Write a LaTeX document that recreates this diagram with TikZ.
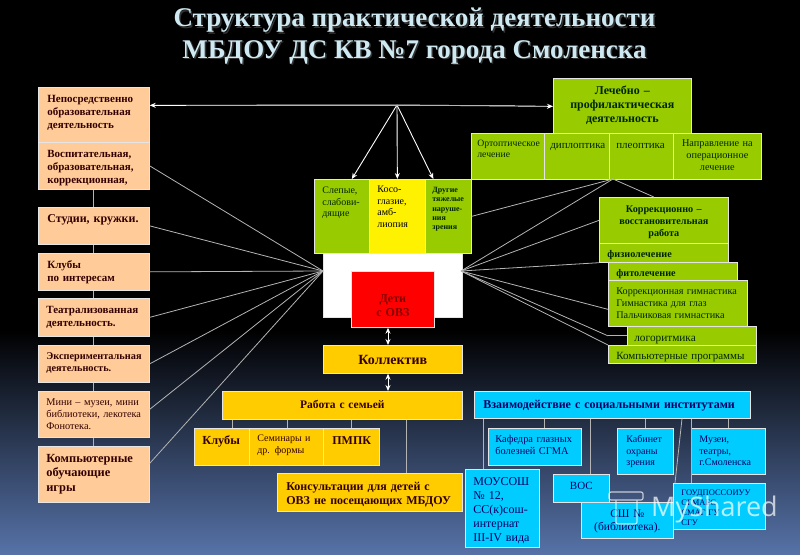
\documentclass[tikz,border=0pt]{standalone}
\usepackage{fontspec}
\setmainfont{Liberation Serif}
\newfontfamily\markfont{Open Sans}
\usetikzlibrary{arrows.meta}
\definecolor{peach}{HTML}{FFCC99}
\definecolor{leaf}{HTML}{99CC00}
\definecolor{gold}{HTML}{FFCC00}
\definecolor{sky}{HTML}{00CCFF}
\definecolor{wire}{HTML}{B4B4B4}
\definecolor{titleblue}{HTML}{CFE9F2}
\newcommand{\fs}[1]{\pgfmathsetmacro\fsb{#1*1.17}\fontsize{#1}{\fsb}\selectfont}
\tikzset{
  cell/.style n args={3}{draw=white!80!gray,line width=0.7pt,anchor=north west,inner ysep=0pt,inner xsep=6pt,align=left,
    minimum width=#1,text width=#1pt-12pt,text height=#3pt,text depth=#2pt-#3pt},
  pad/.style 2 args={inner xsep=#2pt,text width=#1pt-2*#2pt},
  peachcell/.style={fill=peach,text=black!80!red},
  leafcell/.style={fill=leaf,text=black!85!green},
  goldcell/.style={fill=gold,text=black!80!red},
  skycell/.style={fill=sky,text=blue!40!black},
  link/.style={wire,line width=0.8pt},
  tip/.style={line width=0.9pt,-{Stealth[length=6pt,width=5pt]},white},
  twotip/.style={line width=0.9pt,{Stealth[length=6pt,width=5pt]}-{Stealth[length=6pt,width=5pt]},white}
}
\begin{document}
\begin{tikzpicture}[x=1pt,y=-1pt]
\useasboundingbox (0,0) rectangle (800,554);
\fill[black] (0,0) rectangle (800,330);
\shade[top color=black,bottom color={rgb,255:red,86;green,114;blue,168}] (0,330) rectangle (800,554);
% title
\node[font=\bfseries\fs{27},text=black!60!gray,align=center] (titleshadow) at (416,37.5) {Структура практической деятельности\\[0pt]МБДОУ ДС КВ №7 города Смоленска};
\node[font=\bfseries\fs{27},text=titleblue,align=center] (title) at (414.5,36) {Структура практической деятельности\\[0pt]МБДОУ ДС КВ №7 города Смоленска};
% hubs
\coordinate (hubl) at (323,271);
\coordinate (hubr) at (461,271);
\coordinate (hubt) at (397,105);
\coordinate (hubp) at (613,179);
% left column
\node[cell={111}{55}{15},pad={111}{9},peachcell,font=\bfseries\fs{11}] (neposr) at (38,87) {Непосредственно\\образовательная\\деятельность};
\node[cell={111}{47}{15.5},pad={111}{9},peachcell,font=\bfseries\fs{11}] (vospit) at (38,142) {Воспитательная,\\образовательная,\\коррекционная,};
\node[cell={111}{37}{15},pad={111}{9},peachcell,font=\bfseries\fs{12}] (studii) at (38,207) {Студии, кружки.};
\node[cell={111}{37}{15},pad={111}{9},peachcell,font=\bfseries\fs{11}] (kluby) at (38,253) {Клубы\\по интересам};
\node[cell={111}{38}{15},pad={111}{8},peachcell,font=\bfseries\fs{11}] (teatr) at (38,298) {Театрализованная\\деятельность.};
\node[cell={111}{37}{14},pad={111}{8},peachcell,font=\bfseries\fs{10.3}] (eksper) at (38,345) {Экспериментальная\\деятельность.};
\node[cell={111}{46}{14},pad={111}{8},peachcell,font=\fs{10.3}] (mini) at (38,391) {Мини – музеи, мини\\библиотеки, лекотека\\Фонотека.};
\node[cell={111}{56}{16},pad={111}{8},peachcell,font=\bfseries\fs{12.4}] (kompigr) at (38,446) {Компьютерные\\обучающие\\игры};
% centre
\node[cell={55}{74}{14},pad={55}{8},leafcell,font=\fs{10}] (slepye) at (314,179) {Слепые,\\ слабови-\\дящие};
\node[cell={56}{74}{13},pad={56}{8},fill=yellow,text=black,font=\fs{10}] (koso) at (369,179) {Косо-\\глазие,\\амб-\\лиопия};
\node[cell={46}{74}{13},pad={46}{7},leafcell,font=\bfseries\fs{8}] (drugie) at (425,179) {Другие\\тяжелые\\наруше-\\ния\\зрения};
\node[cell={139}{64}{5},fill=white] (whitebox) at (323,253) {};
\node[cell={83}{56}{31},fill=red,text=black!50!red,font=\bfseries\fs{12},align=center] (deti) at (351,271) {Дети\\с ОВЗ};
\node[cell={139}{28}{19},goldcell,font=\bfseries\fs{14},align=center] (kollektiv) at (323,345) {Коллектив};
% family
\node[cell={240}{28}{17},goldcell,font=\bfseries\fs{11.5},align=center] (rabota) at (222,391) {Работа с семьей};
\node[cell={55}{37}{16},pad={55}{8},goldcell,font=\bfseries\fs{12.3}] (klubg) at (194,428) {Клубы};
\node[cell={74}{37}{13},pad={74}{8},goldcell,font=\fs{10}] (seminar) at (249,428) {Семинары и\\др. формы};
\node[cell={56}{37}{16},pad={56}{9},goldcell,font=\bfseries\fs{12}] (pmpk) at (323,428) {ПМПК};
\node[cell={185}{38}{17},pad={185}{9},goldcell,font=\bfseries\fs{12}] (konsult) at (277,473) {Консультации для детей с\\ОВЗ не посещающих МБДОУ};
% social institutions
\node[cell={276}{27}{17},pad={276}{9},skycell,font=\bfseries\fs{12}] (vzaimo) at (474,391) {Взаимодействие с социальными институтами};
\node[cell={93}{37}{14},pad={93}{7},skycell,font=\fs{10.4}] (kafedra) at (488,428) {Кафедра глазных\\болезней СГМА};
\node[cell={56}{46}{14},pad={56}{9},skycell,font=\fs{10}] (kabinet) at (617,428) {Кабинет\\охраны\\зрения};
\node[cell={74}{46}{14},pad={74}{8},skycell,font=\fs{10}] (muzei) at (691,428) {Музеи,\\театры,\\г.Смоленска};
\node[cell={74}{78}{16},pad={74}{8},skycell,font=\fs{12}] (mousosh) at (465,469) {МОУСОШ\\№ 12,\\СС(к)сош-\\интернат\\III-IV вида};
\node[cell={92}{36}{15},skycell,font=\fs{11.5},align=center] (bibl) at (581,502) {СШ №\\(библиотека).};
\node[cell={56}{28}{15},skycell,font=\fs{11},align=center] (vos) at (553,474) {ВОС};
\node[cell={92}{46}{12},pad={92}{8},skycell,font=\fs{8.5}] (goud) at (673,483) {ГОУДПОССОИУУ\\СГМАБС\\СМАГ ГУ\\СГУ};
% right column
\node[cell={138}{55}{16},leafcell,font=\bfseries\fs{12},align=center] (lechebno) at (553,78) {Лечебно –\\профилактическая\\деятельность};
\node[cell={73}{46}{13},pad={73}{6},leafcell,font=\fs{9.7}] (ortopt) at (471,133) {Ортоптическое\\лечение};
\node[cell={65}{46}{15},pad={65}{6},leafcell,font=\fs{11}] (diplo) at (544,133) {диплоптика};
\node[cell={64}{46}{15},pad={64}{7},leafcell,font=\fs{11}] (pleo) at (609,133) {плеоптика};
\node[cell={88}{46}{13},leafcell,font=\fs{10.3},align=center] (naprav) at (673,133) {Направление на\\операционное\\лечение};
\node[cell={129}{46}{15},leafcell,font=\bfseries\fs{10.2},align=center] (korrek) at (599,197) {Коррекционно –\\восстановительная\\работа};
\node[cell={129}{19}{14},pad={129}{8},leafcell,font=\bfseries\fs{10.2}] (fizio) at (599,243) {физиолечение};
\node[cell={129}{18}{14},pad={129}{8},leafcell,font=\bfseries\fs{10.2}] (fito) at (608,262) {фитолечение};
\node[cell={139}{46}{14},pad={139}{8},leafcell,font=\fs{10.2}] (gimn) at (608,280) {Коррекционная гимнастика\\Гимнастика для глаз\\Пальчиковая гимнастика};
\node[cell={129}{19}{15},pad={129}{7},leafcell,font=\fs{11.3}] (logo) at (627,326) {логоритмика};
\node[cell={148}{18}{14},pad={148}{8},leafcell,font=\fs{11}] (kompprog) at (608,345) {Компьютерные программы};
% fan lines
\foreach \n in {vospit,studii,kluby,teatr,eksper}
  \draw[link] (\n.east) -- (hubl);
\draw[link] ([yshift=5pt]mini.east) -- (hubl);
\draw[link] ([yshift=11pt]kompigr.east) -- (hubl);
\draw[link] (drugie.east) -- (hubp);
\draw[link] (hubr) -- (hubp);
\draw[link] (hubp) -- ([xshift=-10pt]korrek.north);
\draw[link] (hubr) -- (korrek.west);
\draw[link] (hubr) -- (fizio.south west);
\draw[link] (hubr) -- ([yshift=-6pt]gimn.west);
\draw[link] (hubr) -- ([xshift=-19pt]logo.west);
\draw[link] ([xshift=-19pt]logo.west) -- (logo.west);
\draw[link] (hubr) -- (kompprog.north west);
% left column links
\draw[link] (vospit) -- (studii);
\draw[link] (studii) -- (kluby);
\draw[link] (kluby) -- (teatr);
\draw[link] (teatr) -- (eksper);
\draw[link] (eksper) -- (mini);
\draw[link] (mini) -- (kompigr);
% top arrows
\draw[tip] (hubt) -- ([yshift=9.5pt]neposr.east);
\draw[tip] (hubt) -- ([yshift=-.5pt]lechebno.west);
\draw[tip] (hubt) -- ([xshift=10pt]slepye.north);
\draw[tip] (hubt) -- (koso.north);
\draw[tip] (hubt) -- ([xshift=-15pt]drugie.north);
\draw[wire,line width=0.9pt] (190,105) -- (515,105);
% double arrows
\draw[twotip] (388,0 |- deti.south) -- (388,0 |- kollektiv.north);
\draw[twotip] (388,0 |- kollektiv.south) -- (388,0 |- rabota.north);
% family links
\draw[link] (232,0 |- rabota.south) -- (232,0 |- klubg.north);
\draw[link] (287,0 |- rabota.south) -- (287,0 |- seminar.north);
\draw[link] (351,0 |- rabota.south) -- (351,0 |- pmpk.north);
\draw[link] (406,0 |- rabota.south) -- (406,0 |- konsult.north);
% institution links
\draw[link] (483,0 |- vzaimo.south) -- (483,0 |- mousosh.north);
\draw[link] (544,0 |- vzaimo.south) -- (544,0 |- kafedra.north);
\draw[link] (590,0 |- vzaimo.south) -- (590,0 |- vos.north);
\draw[link] (645,0 |- vzaimo.south) -- (645,0 |- kabinet.north);
\draw[link] (682,0 |- vzaimo.south) -- (675,0 |- goud.north);
\draw[link] (691,0 |- vzaimo.south) -- (691,0 |- goud.north);
\draw[link] (728,0 |- vzaimo.south) -- (728,0 |- muzei.north);
% watermark
\node[font=\markfont\fs{27},text=white,opacity=0.7,anchor=west,inner sep=0pt] (myshared) at (651,509) {MyShared};
\draw[white,opacity=0.7,line width=1.2pt,rounded corners=2pt] (609,492) rectangle (643,500) (616,500) -- (616,524) -- (637,524) -- (637,500);
\end{tikzpicture}
\end{document}
